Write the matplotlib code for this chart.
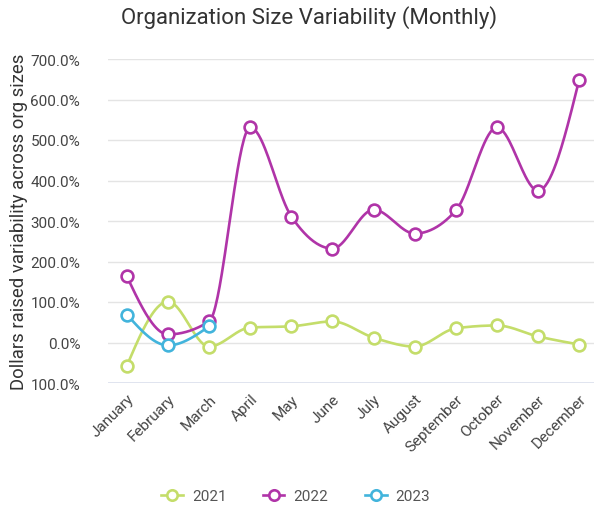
import matplotlib.pyplot as plt
import numpy as np

plt.rcParams['font.family'] = ['Roboto', 'DejaVu Sans']

months = ['January', 'February', 'March', 'April', 'May', 'June', 'July',
          'August', 'September', 'October', 'November', 'December']
y2021 = [-57, 101, -10, 37, 40, 52, 12, -10, 35, 42, 15, -5]
y2022 = [163, 20, 52, 531, 311, 232, 328, 269, 326, 531, 375, 649]
y2023 = [69, -7, 40]
yticks = [-100, 0, 100, 200, 300, 400, 500, 600, 700]
ytick_labels = ['100.0%', '0.0%', '100.0%', '200.0%', '300.0%', '400.0%',
                '500.0%', '600.0%', '700.0%']

colors = {'2021': '#c4dd6a', '2022': '#b034a8', '2023': '#42b4dc'}


def smooth(xs, ys, n=40):
    # monotone cubic (steffen), like d3 monotoneX
    xs = np.asarray(xs, float)
    ys = np.asarray(ys, float)
    s = np.diff(ys) / np.diff(xs)
    m = np.zeros_like(ys)
    for i in range(1, len(ys) - 1):
        s0, s1 = s[i-1], s[i]
        p = (s0 + s1) / 2
        m[i] = (np.sign(s0) + np.sign(s1)) * min(abs(s0), abs(s1), 0.5*abs(p))
    if len(ys) > 2:
        m[0] = (3*s[0] - m[1]) / 2
        m[-1] = (3*s[-1] - m[-2]) / 2
    else:
        m[:] = s[0]
    out_x, out_y = [], []
    for i in range(len(xs) - 1):
        t = np.linspace(0, 1, n)
        h00 = 2*t**3 - 3*t**2 + 1
        h10 = t**3 - 2*t**2 + t
        h01 = -2*t**3 + 3*t**2
        h11 = t**3 - t**2
        out_x.extend(xs[i] + t)
        out_y.extend(h00*ys[i] + h10*m[i] + h01*ys[i+1] + h11*m[i+1])
    return out_x, out_y


fig = plt.figure(figsize=(5.94, 5.10), dpi=100)
ax = fig.add_axes([108/594, 1-384/510, 1-108/594, (384-60)/510])

for name, vals in [('2021', y2021), ('2022', y2022), ('2023', y2023)]:
    x = np.arange(len(vals))
    sx, sy = smooth(x, vals)
    c = colors[name]
    ax.plot(sx, sy, color=c, lw=1.9, zorder=3)
    ax.plot(x, vals, ls='none', marker='o', ms=8.5, mfc='white', mec=c,
            mew=1.9, zorder=4)
    ax.plot([], [], color=c, lw=1.9, marker='o', ms=7.5, mfc='white', mec=c,
            mew=1.9, label=name)

ax.set_xlim(-0.46, 11.36)
ax.set_ylim(-100, 700)
ax.set_yticks(yticks)
ax.set_yticklabels(ytick_labels)
ax.set_xticks(range(len(months)))
ax.set_xticklabels(months, rotation=45, ha='right', rotation_mode='anchor')
ax.tick_params(length=0, labelsize=11, colors='#444444', pad=6)
ax.tick_params(axis='y', pad=20)
ax.grid(axis='y', color='#e4e4e4', lw=1)
ax.axhline(-100, color='#dde2ee', lw=2, zorder=2)
for sp in ax.spines.values():
    sp.set_visible(False)

ax.set_ylabel('Dollars raised variability across org sizes', fontsize=13.3,
              color='#333333', labelpad=2)
fig.text(0.521, 1-18/510, 'Organization Size Variability (Monthly)',
         ha='center', va='center', fontsize=16, color='#333333')

fig.legend(loc='center', bbox_to_anchor=(0.498, 1-497/510), ncol=3,
           frameon=False, fontsize=11, labelcolor='#555555',
           handlelength=1.4, columnspacing=2.4, handletextpad=0.6)

fig.savefig('out.png', dpi=100)
